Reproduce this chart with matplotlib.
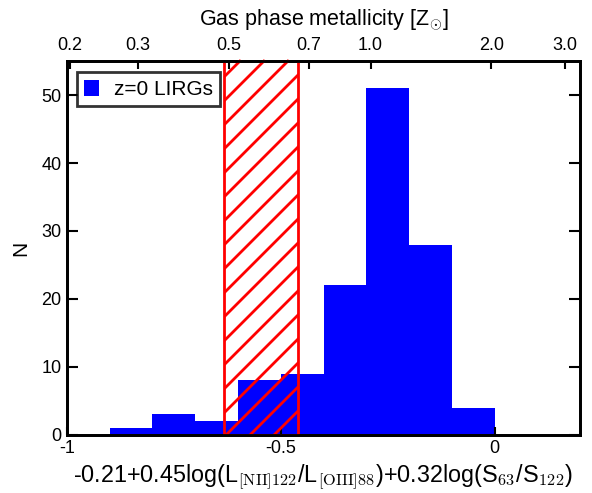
import matplotlib
matplotlib.use("Agg")
import matplotlib.pyplot as plt
import numpy as np
from matplotlib.patches import Rectangle
from matplotlib.lines import Line2D
from matplotlib.transforms import IdentityTransform

plt.rcParams['font.family'] = ['Liberation Sans', 'DejaVu Sans']
plt.rcParams['mathtext.fontset'] = 'cm'

# Data
bin_edges = [-0.9, -0.8, -0.7, -0.6, -0.5, -0.4, -0.3, -0.2, -0.1, 0.0]
counts = [1, 3, 2, 8, 9, 22, 51, 28, 4]
band_range = [-0.633, -0.460]
top_tick_labels = ['0.2', '0.3', '0.5', '0.7', '1.0', '2.0', '3.0']
top_tick_pos = [-0.993, -0.834, -0.621, -0.435, -0.290, -0.008, 0.165]
bottom_ticks = [-1, -0.5, 0]
bottom_tick_labels = ['-1', '-0.5', '0']

fig = plt.figure(figsize=(5.92, 4.93), dpi=100)
ax = fig.add_axes([0.113, 0.118, 0.867, 0.758])

centers = [(bin_edges[i] + bin_edges[i + 1]) / 2 for i in range(len(counts))]
ax.hist(centers, bins=bin_edges, weights=counts, color='blue', histtype='stepfilled',
        linewidth=0, label='z=0 LIRGs')

ax.set_xlim(-1, 0.2)
ax.set_ylim(0, 55)

rect = Rectangle((band_range[0], 0), band_range[1] - band_range[0], 60,
                 facecolor='none', edgecolor='red', linewidth=2, zorder=4)
ax.add_patch(rect)

# manual hatch lines (45 deg in pixels), clipped to the band
x0p, y0p = ax.transData.transform((band_range[0], 0))
x1p, y1p = ax.transData.transform((band_range[1], 55))
spacing = 24.0
start = (x0p - y1p)
c = start - (start % spacing) - spacing
while c < x1p - y0p + spacing:
    ln = Line2D([y0p + c, y1p + c], [y0p, y1p], color='red', linewidth=2,
                transform=IdentityTransform(), zorder=3)
    ax.add_line(ln)
    ln.set_clip_path(rect)
    c += spacing

ax.set_xticks(bottom_ticks)
ax.set_xticklabels(bottom_tick_labels)
ax.set_yticks([0, 10, 20, 30, 40, 50])
ax.tick_params(axis='both', direction='in', length=8, width=1.5, labelsize=13,
               right=True, top=False, pad=4)
ax.tick_params(axis='x', length=6)
for s in ax.spines.values():
    s.set_linewidth(2)

ax.set_xlabel(r'-0.21+0.45log(L$_{\mathrm{[NII]122}}$/L$_{\mathrm{[OIII]88}}$)+0.32log(S$_{\mathrm{63}}$/S$_{\mathrm{122}}$)',
              fontsize=16.8, labelpad=4)
ax.set_ylabel('N', fontsize=15, labelpad=8)

ax2 = ax.twiny()
ax2.set_xlim(ax.get_xlim())
ax2.set_xticks(top_tick_pos)
ax2.set_xticklabels(top_tick_labels)
ax2.tick_params(axis='x', direction='in', length=6, width=1.5, labelsize=13, pad=5)
ax2.set_xlabel(r'Gas phase metallicity [Z$_{\odot}$]', fontsize=15.5, labelpad=8)
for s in ax2.spines.values():
    s.set_linewidth(2)

leg = ax.legend(loc='upper left', fontsize=15, frameon=True, fancybox=False,
                handlelength=0.7, handleheight=0.85, handletextpad=0.7,
                borderpad=0.35, borderaxespad=0, bbox_to_anchor=(0.02, 0.97))
leg.get_frame().set_edgecolor('black')
leg.get_frame().set_linewidth(2)
leg.set_zorder(5)

fig.savefig('out.png', dpi=100)
